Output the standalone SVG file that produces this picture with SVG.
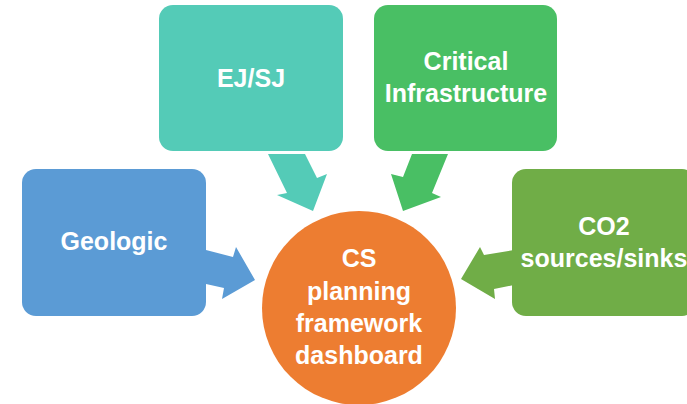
<svg xmlns="http://www.w3.org/2000/svg" width="687" height="404" viewBox="0 0 687 404">
<style>
.lbl{font-family:"Liberation Sans",Arial,sans-serif;font-weight:bold;font-size:25px;fill:#fff;text-anchor:middle}
</style>
<rect width="687" height="404" fill="#fff"/>
<g id="connectors">
<polygon fill="#54CBB7" points="268,154 305,154 317,178 327,174 313,211 277,195 287,193"/>
<polygon fill="#49BF64" points="412,154 448,154 432,193 441,197 403,211 391,174 403,177"/>
<polygon fill="#5B9BD5" points="206,250 233,257 236,247 255,280 222,299 224,288 206,284"/>
<polygon fill="#70AD47" points="514,250 484,255 480,247 461,279 495,299 494,289 514,285"/>
</g>
<g id="geologic">
<rect x="22" y="169" width="184" height="147" rx="14" fill="#5B9BD5"/>
<text class="lbl" x="114" y="250">Geologic</text>
</g>
<g id="ejsj">
<rect x="159" y="5" width="184" height="146" rx="14" fill="#54CBB7"/>
<text class="lbl" x="251" y="87">EJ/SJ</text>
</g>
<g id="critical">
<rect x="374" y="5" width="183" height="146" rx="14" fill="#49BF64"/>
<text class="lbl" x="466" y="70">Critical</text>
<text class="lbl" x="466" y="102">Infrastructure</text>
</g>
<g id="co2">
<rect x="512" y="169" width="184" height="147" rx="14" fill="#70AD47"/>
<text class="lbl" x="604" y="235">CO2</text>
<text class="lbl" x="604" y="267">sources/sinks</text>
</g>
<g id="dashboard">
<circle cx="359" cy="308" r="97" fill="#ED7D31"/>
<text class="lbl" x="359" y="267">CS</text>
<text class="lbl" x="359" y="300">planning</text>
<text class="lbl" x="359" y="332">framework</text>
<text class="lbl" x="359" y="364">dashboard</text>
</g>
</svg>
